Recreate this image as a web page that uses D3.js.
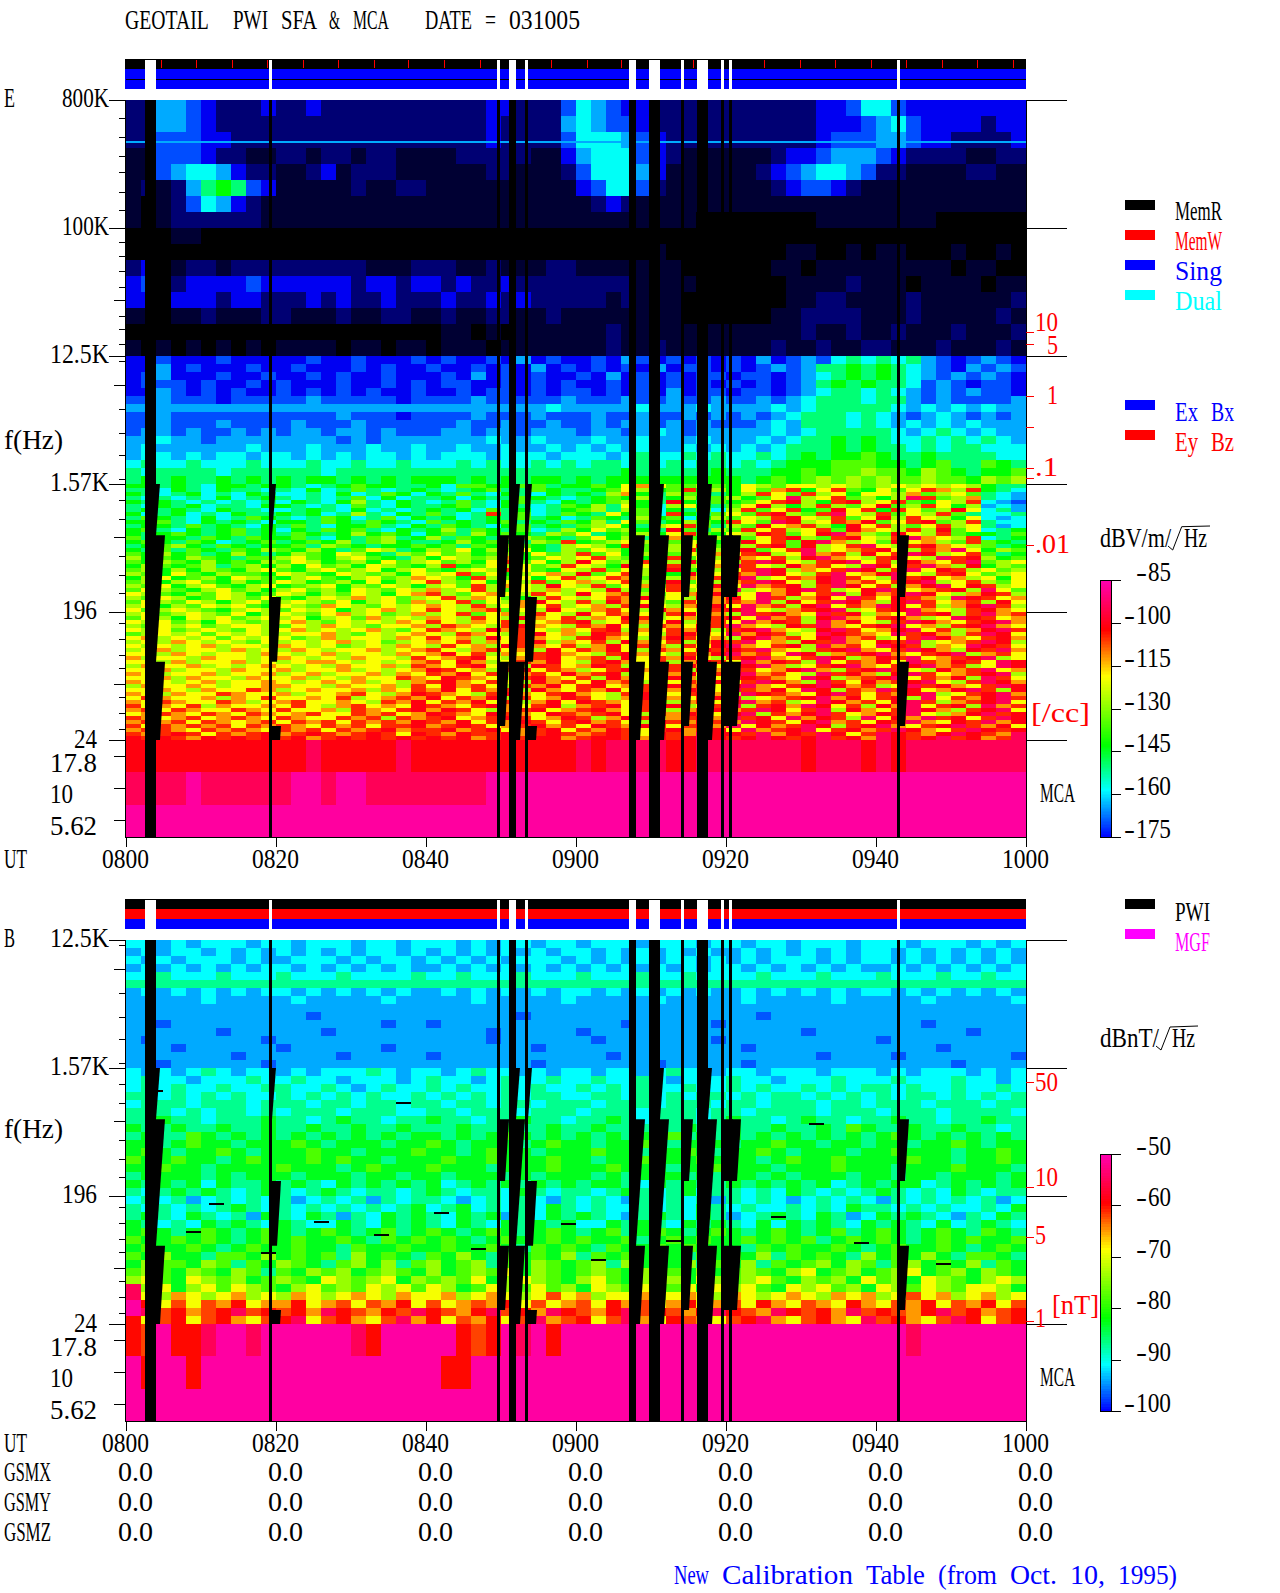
<!DOCTYPE html>
<html>
<head>
<meta charset="utf-8">
<script src="https://cdn.jsdelivr.net/npm/d3@7"></script>
<style>
  body { margin: 0; background: #fff; }
  text { font-family: "Liberation Serif", serif; font-size: 28px; white-space: pre; }
</style>
</head>
<body>
<div id="chart"></div>
<script>
// level letters used in the spectrogram rows below, dark to hot
const levelKeys = '.abcdefghijklmnop'.split('');
const eLevels = [-195, -191, -186, -176, -170, -164, -158, -150, -143, -135, -127, -119, -112, -105, -101, -94, -87];
const bLevels = [-115, -110, -107, -100.5, -97, -94, -91, -87, -83, -78, -74, -69, -65, -62, -60, -55, -51];

// E field, 800K -> 12.5K, 60 columns of 2 minutes
const eHighRows = [
  'bbeedcbbbc bbcbbbbbbb bbbbccbbbd fedccbbbbb bbbbbbccdf fdcccccccc',
  'bbeedcbbbb bbbbbbbbbb bbbbcbbbbe feddcbbbbb bbbbbbcccd efdccccbcc',
  'bbdddccbbb bbbbbbbbbb bbbbcbbbbd fffedcbbbb bbbbbbcddd eedccbbbbc',
  'aadddcbbaa bbabbabbaa aabbbbbaac efffdcbaaa aaabccdeee dcbbbbaabb',
  'aadeffecbb aabcabbbaa aaaabbaaab dfffecaaaa aabcdeffed bbaaaabbaa',
  'ababeghgdc aaaaabaabb aaaaaaaaaa cdffdbaaaa aaabcddcba aaaaaaaaaa',
  'a.abdfecba aaaaaaaaaa aaaaaaaaaa abcbaaaaaa aaaaaaaaaa aaaaaaaaaa',
  'a.abbbbbba aaaaaaaaaa aaaaaaaaaa aaaaaaaa.. ......aaaa aaaa......',
  '...aa..... .......... .......... .......... .......... ..........',
  '.......... .......... .......... .....a.... ....aa..a. aa...a..a.',
  'bc.abbabbb bbbbbbaaab bbaabaaabb aaaaaaa... ...aa.aaaa aaaaa.aa..',
  'cd.bccccdc cccccbccbc cbcbbcbbbb bbbbaaaa.. ....aaaaba aa.aaaa.aa',
  'cc.cccbccb bbcbcbbcbb bcbbcbcbbb bbabaaa... ....aabbaa aabaaaaaab',
  'aa.aabaaab baaabaabba abaabbaaba aaaaaaa... ...aabbbba aabaaaaaba',
  '.......... .......... .aa.a.aaaa aabaaaaaaa aaaaabaaba abaaabaaab',
  'a.a.a.a.a. aaaa.aa.aa .aaa.aaaaa aabaabaaaa aaabaabaab baaabaaaba'
];

// E field, 12.5K -> 1.57K
const eMidRows = [
  'ccdcccdccc ccdccdcccd cdccdcecdc cdcedcdcdc dcecdedfgf gfgedcdedc',
  'ccecdcccdc cdcccdcdcc dccdcdcecd cdcdcecddc dcdedegghg hgfedceded',
  'cdecccdccd ccdcdccdcc cdcecdcdcc dcecdcdcdd cddcdefghg hgfedededc',
  'cdddcdccdc dcccdccdcd cddccdcdcd ccdcdcdcdc dcdcdeghgh ggfdedcddc',
  'ccedcdcdcc dcdcdcdccd ccdcddcdcd dcdcdcecdd cddcdefggf gfedededdc',
  'ddedddcddd ddedddddcd dddeddddde dddeddedde ddedefgggf ggededddde',
  'eeeeeeeeee eeeeeeeeee eeeeeeeefe eeeefeeefe eeefefgggg gfefefefee',
  'ddeddddddd ddddedddcd dddedddedd deddeddede dedefgggfg fedefedede',
  'ddedddeddd dedddedddd ddeddedded dedeededed ddefegggfg fefefefeee',
  'deededdede deedeededd deedeedeee deedefedee eeefefgggg gfefgfefee',
  'eefeedeeee eeeededeee eeeefeefee efeefeeefe eefefgghgh gffgfgfgfe',
  'efeeeeeefe eefeeefeef eefeefeefe fefefeefef efefggghgh ggfgfggfff',
  'effefeffef fefefeffef efffefffef ffefgffgfg ffgfghghhi hgghggggff',
  'fgffgfffgf ffgffgffgf ffgfgffgfg fggfgfgfgg fgfghhhiii hhghiggihg',
  'gfggggfggg gggfgggggg gggggggggg ggghgggggh ggghhihiij iihjihghhi',
  'ghghgghghg hghhghghgh hhghghghhg hghhhhhhhh hghihijiji jiijiihjij'
];

// E field, 1.57K -> 24
const eLowRows = [
  'hhghgfhhgh hgfghihhgg hfiihhiigh hihklkiiji hkjikkjkji jkjkjkjhgg',
  'ggfhgfhggf gfhfgigfgh gfghiggihg ghikjhimhj hkilmhkmih kikmljmhgf',
  'hgfghfgfhg ffgfhfgihf hgigfhgfhg hgjlhgjiig hjmkimjkhk kjlijkigfe',
  'gfgfgfhfgh gfgfgifhfg ghfhggihgf ghihjghjhi jhikojkmij hjomijlgfe',
  'hghgfgfgfg fhgfhjgfhg fgigfhigfh ghijhgnhgi hikmnjhmnj kmihkjmfed',
  'gfhghfggfh hgfgfigfhg ghigfhgfgi hjgkhfjkhg iknjhjmjik nijmkhjefe',
  'ghghgfhggf fghgfhfgfg hghfighfgh ijgjifhgif jmikmhinkm hmkijnkfge',
  'hfghfgfhgg hghfgjgfhg igfgmgifgi hgkhifmhgi kimnjimokj mikjmigffg',
  'gihgfhfgih gfgihfgifh ghfghgighf gihgjhifhj ikjmnkjmik njmkjhkfef',
  'hhigfhghgf hhgihgihgf ighghighgi hjgkighjih mkionjkmln ikmnijmgff',
  'ghhgighgfh gigfhhigfh gihgfhighg ijkhgjkmig jinklmjhnk mjikmjkgef',
  'higfhghigh fhgihigfhg hjgihgifgj hkijhgnigj imkmjkminl kjmjnikfgh',
  'hghihghigh gihghjhihf higjhihgji kghijhkmih kjnmiknolj inkjmihhgi',
  'ighhgihgih higfhgijgh jgihgkjihg ikhjgjlihj mikmnjimnk jmolkjmfgh',
  'hihgihfghi ghihjgijhg ghjhihgjim hijkjgikjh jnkminoljk inkljimihg',
  'ghijhgihgh higjihghhi higihjihgj kjhmihjkmi kjmninjkmo kjmnlkjigh',
  'hgigihgihj ihjhgikjgh jikhjikhgj ikjhikjmhj mnikmojklm nkjmlokhji',
  'ihjhighjhg hjihkjhgji kijhijhkij mikhjnikjl kmnjkolmjn kmonjkmigh',
  'jhihjihgii jkihjkihgj hkjijlhikj kmjihjmikj nlkmjnolkj mnkjomnjhi',
  'ihjihjhihj ikjhijhkij kijhkmikhj nkijmkjnik jmonkjmnok mjnlkmoijk',
  'hjihijgijh jhkijhkjih jmhikjkijm kjhnkimjkl omkjnlmkjo nkmoljnhji',
  'ijhjhjihjk ihjkijkhjk ihjkjmkihk jmikjknihj kmonjlkmon jmoknmjkij',
  'jihkihjiih kjihkjijhk jkmikhjklj nikmjkhnjk mlonkjmokl nokjmnkijk',
  'hjkhijhkji hjkihjkijl kjhmjikhkm jkmlikjlkm nojkmlnomk jomnkljkhk',
  'ijhjkihjhi kjhijhkhjk mjikhkjmik ljkmjhnikj lmonkjnolm kmnojkmjik',
  'jikhjkihjk hijkhjikjh jkimjlkjnk jmikljmkjn kolmnjmonk mjlnoknmjk',
  'ikjihjkijh jkijhkjikj ljkmjikjlj kjnjikmjkl ojklnomjkn omklmnjoki',
  'kjihjikjhi kjhjikjhkl mjiklkjmkj nklmjiklmn jkolnkmojn lmonkjlnmj',
  'jikjhikjik ihjkjljkij kmjlkihjmk jkmlnjkjnl nkomjlnkom knmljonmkl',
  'ikjikjhjki jkjikhjkil jkmikjlnkj mjnlkjimkl mlojnkmonl jnomklmjnk',
  'jkhjikjkih kjilkjikjk lkjmjklkmj kljmnkjlmn kolmjnokml onkmjlnomj',
  'kijkjihjkj ikjkhjkljk mkjlmikjnk jlmkjnlkjm nokjlmnojk mnolkjmnlk',
  'jkijkjikhj kjikljkijl jkmikljmkj nkmlkjmnkl jomnlkomnj lkomnjmolm',
  'ikjhkjkijk jkhjkiljkj lkjmkjnlkm jlknmjkljm nkolmjnolk mnljkonmkl',
  'kjkijhkjij kljikjkjlk mkjlkmjklm njkmlknjlm kolnmjolnk jmonlkmnol',
  'jikjkijkkj ikjlkjikkl jmlkjmnlkj mlnkjmlknm olkjnmolkm nokljmnolk',
  'kjkijkjikj kljkjkljik mlkjnlmkjl kmnjlkmlnj mnolkjnomk lnokmjlnom',
  'ijkjkikjkj jkkljikjkl kjmlkjmnkl jnmlkjmnlk olnmjkonml komnljmonk',
  'kljkjkikjk kijljkkjlk mkljnkmlkj mnlkjlnmkl jnolmknolm jkmonlkmnl',
  'jkjlkjkjik jkjkljkijk lkmjlkmnjl kmjnlkmjln mokljnmolk nmojklmonj',
  'kjkjkljkkj lkjkijkjlk jmkljnmlkm jlnkmljmkn olkmnjolmk onmjlkonmk',
  'jkljkkjljk jlkjkkljkl mkjlmkljnk mlnkjmlknm nmolkjmnol kmonljnmol',
  'kkjlkjkkjl kjkljkkjlk lnkmjlkmnl kjmnlkjmln olmkonjlmn olkmnojlmk',
  'ljkkjlkkjk lkjkjlkkjm klmnkjlmnk lmjnkmlnkj mnolkmonjl nmoklmnojk',
  'kkjljkkljk jkllkjkjkl mknljkmlnk jmnlkmjlnm kolnmjokml nkomlnmkon',
  'jlkkljkjkl kjkjlkkljm lkmnkljnmk lnmjklmnlk mnoljkmnol kmnolmjkon',
  'kkljkkjlkk ljkkljkjkl nmkljmnkml jkmnlkmjnl omklnoljmn omkjnlmokl',
  'lkjkkljkkl jkljkkljlk mlnkmjlmkn lmnjkmlnkm nolmkjomnl jnomklmnoj',
  'kkljlkkjlk kljkjlkkml knmlkjmnlk mjnlkmnljk onmlkonjlm nokmlnjomk',
  'lkkjkljkkl kjklkljkjl mnlkmkjnlm knlmjnkmln kmonljomkn lmnokjmonl',
  'jlkklkjkkl lkkjlkkljm knlmkjmlnk mnklmjnlmk nolkmnonlm jkomnlkmon',
  'kklkjlkkml jklkkljlkm lnkmlmjnlk mlnkmjlnmk omlnkonjml omnklnomjn',
  'lkjlkkmlkk ljkklmkjln mlkjmnlkmn lkjmnlkmnl jonmlknomk mlnojkmnol',
  'kmlkkljlkm kklkmjklml nkmlnjmkln mkjlnmlkmn ojklmnolnk mnjokmlnom',
  'lkmlkkmljk lmkklkjmln kmlnkmjlnk nmlkmnjlmk nolmjkonlm knomjlmnok',
  'mklkmjlkkl kmkjlmklkn mlkmnlkmnj lmnkmlnjkm ojmnlonkmj nlokmnjolm',
  'lmkmlkkmlk mkkljmlkmn lnmkjlmnkl mnlkmnjlmn lmonkmojnl kmonljmnok',
  'klmlkmlkml klmkkmlmkl nmlknmlknm lmnkjmlnmk nojmlnomkl nmokjlnomn',
  'mlklmklmlk mlkkmlmjml mnklmnmkln mjlnmklmnl omnkolnmjo knlomnkmon',
  'lmlmkmlklm kmlmkmlmln mlnkmlnmkm nlmkjnmlnm lonmknolmk nmolknmoln',
  'mkmlmlmkml mlkmlmkmmn lmnmklmnlm knmlnmkmnl oknlmonjmn olkmnomlnk',
  'lmmlkmlmlk mlmkmlmnlm mnlmnklmnk mlnmkmnlmn kolmnokmnl monlkmonmn',
  'mlmnmkmlmn lmnmlmnmkn mlnmmnlmnm lmnmknmlon nmolnmonkm onmlnonmlo',
  'nmnmlnmnmn mnlmnmnmnm nmnlmnmnnl mnnmlnmnon mnonmnomnl onmnomnlmo'
];

const eMcaRows = [
  'nnnnnnnnnn nnonnnnnon nnnnnnnnnn onoooonnoo ooooonooon onoooooooo',
  'oooopooooo oppoppoooo oooopppppp pppppppppp pppppppppp pppppppppp',
  'pppppppppp pppppppppp pppppppppp pppppppppp pppppppppp pppppppppp'
];

// B field, 12.5K -> 1.57K
const bMidRows = [
  'ffefefffef fefffeffef ffefeffeff efffefffef feffefffef ffefffefef',
  'efeffefefe fefefeffef efefefefef fefefefefe efefefefef fefefefefe',
  'fefefffefe efffefeffe fefefefffe fefefeffef efefffefef fefefefefe',
  'efefefefef fefefefefe efefefefef efefefefef fefefefefe efefefefef',
  'ffgfffgfff gfffgffffg ffgfffgfff gfffgffgff ffgfffgfff gfffgffgff',
  'gggggggggg gggggggggg gggggggggg gggggggggg gggggggggg gggggggggg',
  'efefefefef fefefefefe efefefefef fefefefefe efefefefef fefefefefe',
  'eeeeefeeee efeeeeefee eeefeeeeef eeeeefeeee efeeeeefee eeefeeeeef',
  'eeeeeeeeee eeeeeeeeee eeeeeeeeee eeeeeeeeee eeeeeeeeee eeeeeeeeee',
  'eeeeeeeeee eedeeeeeee eeeeeedeee eeeeeeeeee eedeeeeeee eeeeeeeeee',
  'eedeeeeeee eeeeeeedee deeeeeeeee eeedeeeeed eeeeeeeeee eeedeeeeee',
  'eeeeeedeee eeedeeeeee eeeedeeeee deeeeeeeee eeeeedeeee eeeeeedeee',
  'edeeeeeeed eeeeeeeeee eeeedeeeee edeeeeeeed eeeeeeeeee deeeeeeeee',
  'eeedeeeeee deeeeeedee eeeeeeedee eeeeeeeeee edeeeeeeee eeeedeeeee',
  'eeeeeeedee eeeedeeeee deeeeeeeee eedeeeeeee eeeeeedeee edeeeeeeed',
  'eedeeeeeed eeeeeeeeee eeeeeeedee eeeeedeeee edeeeeeeee eeeeedeeee'
];

// B field, 1.57K -> 24
const bLowRows = [
  'fefefgfeff efefffgfef fefgffefef feffefgffe ffefffefff efefffefef',
  'fgffefffgf fgffefffef gffefgffgf fgffgfefff gffefffgff fgfffgffef',
  'fgfgffgffg gffgfefgff gfgffgfgff gfgfgffgff gfgffgfgfg gfgffgffgf',
  'ggfgfgfgff gfgfgfgffg fgfgfgfggf fggfgfgfgg fgfggfgfgf gfggfgfgfg',
  'fgggfgggfg ggfggfggfg gfggfggfgg gfgggfgggf ggfgggfggf gggfgggfgg',
  'gggfgfggfg fgggfgggff ggfgggfggg fgggfgggfg gfggggfggg fgggfggggf',
  'gghggfgggh ggfghggfgg hggfgghggf gghgfgggfg hggfghggfg ghggfgghgg',
  'hgghgghggh gghgghgghg gghgghgghg ghggghghgg hgghgghgih gghgghggfg',
  'ghggihghgh ghghghghgh hghghihghg hghghhighg hghghghghg hihghghghg',
  'hhghihhghh hihghhhghh ihghhhghih hghhihghhh ghhihhghhg hhghhihghh',
  'hihghhihgh hhihhghhhi hhghihhghh hihhghhihg hhihghhhgh hihhhghhih',
  'ihhihhghih hhihihhghh hihhihhhih hghhihhhih hhghihhihh hhihhghhih',
  'hhihhghhhh ihhhghihhh ihhhghhhih hhihhhghhi hhhghhhihh hghhhihhhg',
  'ghhhhghghh hghhhghhgh hghhhghghh hghghhhghg hhghghhhgh hghhghhhgh',
  'hghghfhggh ghgfhghghg hfghghghgh ghhgfhghgg hghghghfgh ghhfghghgh',
  'gfghghgfgh gfghgfggfg hgfggfhgfg gfghgfghfg gfgfhgfgfg hgfgfhgfgg',
  'fgfgefgfgf gefgfgegfg gfefgfgfeg fgfegfgfge gfgfefgfgf egfgfgfgef',
  'gfgfgfghgf gfgfgfgfgh fghfgfgfhg fgffgfgfhg fgffgfgfhg gfgfgffgfh',
  'ghgfhgfgeh gfhgegfhgh gfhghegfhg hgfeghgfhg efghgfhgef hghgfegfhg',
  'hgfgfhghgf hgffhgfhgh gfhgfhghgh ffhghgfhgh gfhfhghgfh ghgfhfghgf',
  'hihghihghi hghihghigh ihghihghih ghighihghi hghihghigh ihghihgihg',
  'ihhihihghi hihhihgihi hihghihhih ihhighihih hihihighih ihghihihhi',
  'hihhihghih hihhgihhih hihhihgihi hgihhihihh hgihihhihg hihhihghih',
  'ihjhhgiihj hihigjhihg ihjhgihihj gihihjhgih ihjgihihgj hihjhgiihg',
  'hjiihjigih jihgijhjgi jhijgihjih ijgjhihjgi hjgihijhji gijhihjgih',
  'ijihjihjig ihjijhijih jhijikhjih ijihjkihjh ijihjkhijh ijkhijhjih',
  'jkihkjijhi jihkjijkhj ijikhjkjih jkihjijhkj ijkihjijhk ijhkjihjkj',
  'ojkhjkikji hjkijikjki kjhikjikij hkjikjikhk jkihkjkijh kjikjikkjh',
  'okjlkjkljk jlkjklkjlk kljklkjkmk ljkkljklkj lkjklkjlkl jkmkljkljk',
  'pnkmkmlnkl lnklmkmlnk mklmlnkmkl mknlmklnkl mknlkmlknl kmlnkmlnkm',
  'pomnlmnomn mnlonmlnmo nmlnomnlon mlnomnmlno nmlonmnlom nmlnomnlmn',
  'nkmnkmnlkm nokmnlkmol nkmlnkmolm nkmolknmlk mnolkmnlko mnlkmonkmn'
];

const bMcaRows = [
  'nmpnnoppop ppppponppp ppnmnpopnp pppppppppp pppppppppp ppoppppppp',
  'pnppnppppp pppppppppp pnnppppppp pppppppppp pppppppppp pppppppppp',
  'pppppppppp pppppppppp pppppppppp pppppppppp pppppppppp pppppppppp'
];

// steady interference line in the E panel
const eLineFreqs = [411000];
const eLineLevels = ['e'];

// thin dark streaks in the B panel: frequency and time in minutes
const bStreakFreqs = [175, 150, 140, 130, 125, 110, 105, 96, 92, 84, 78, 70, 66, 1100, 900, 640];
const bStreakTimes = [11, 41, 86, 25, 58, 8, 33, 72, 97, 46, 18, 62, 108, 2.9, 36, 91];

// data gaps in minutes after 0800, and which sweep tails each one leaves
const gapStarts = [2.53, 19.07, 49.47, 51.07, 53.2, 67.07, 69.73, 74, 76.13, 79.33, 80.4, 102.8];
const gapEnds = [4, 19.47, 49.87, 52, 53.6, 68, 71.2, 74.4, 77.6, 79.73, 80.8, 103.2];
const gapTails = ['A B C', 'A B2 C2', 'B1 C1', 'A B C', 'A B2 C2', 'B C', 'A B C', 'B1 C1', 'A B C', 'B1 C1', 'B1 C1', 'B1 C1'];

// tail name -> [top freq, bottom freq, lag at top, lag at bottom] (Hz, minutes)
const tailShapes = {
  A: [1562.5, 680, 0.53, 0],
  B: [680, 87, 1.2, 0],
  C: [87, 24.41, 1.2, 0.53],
  B1: [680, 249, 1.2, 0.67],
  B2: [249, 87, 1.2, 0.67],
  C1: [87, 30.7, 1.2, 0.67],
  C2: [30.7, 24.41, 1.2, 1.07]
};

// memory read marks on the top status bar, minutes
const memReadMarks = [4.7, 9.37, 14.17, 18.9, 23.63, 28.3, 33.1, 37.73, 42.53, 47.2, 56.7, 61.5, 66.13, 75.6, 85.1, 89.9, 94.57, 99.37, 104.07, 108.87, 113.5, 118.3];

const timeTicks = [0, 20, 40, 60, 80, 100, 120];
const timeLabels = ['0800', '0820', '0840', '0900', '0920', '0940', '1000'];
const gsmRows = ['GSMX', 'GSMY', 'GSMZ'];
const gsmValue = '0.0';

const eMajorFreqs = [800000, 100000, 12500, 1562.5, 195.3, 24.41];
const eMajorLabels = ['800K', '100K', '12.5K', '1.57K', '196', '24'];
const bMajorFreqs = [12500, 1562.5, 195.3, 24.41];
const bMajorLabels = ['12.5K', '1.57K', '196', '24'];
const mediumFreqs = [31000, 7800, 660, 60.6];
const minorFreqs = [
  600000, 440000, 320000, 250000, 180000, 135000,
  80000, 63000, 50000, 38300, 24000, 19400, 15200,
  11500, 5280, 3580, 2500, 1700,
  1205, 885, 485, 356, 266,
  163, 126, 97, 78.6, 49, 37.8, 29.2
];
const mcaBands = ['17.8', '10', '5.62'];

const eBarTicks = [-85, -100, -115, -130, -145, -160, -175];
const bBarTicks = [-50, -60, -70, -80, -90, -100];

const eDensity = [10, 5, 1, 0.5, 0.1, 0.05, 0.01];
const bTesla = [50, 10, 5, 1];

const width = 1280;
const height = 1593;
const cell = 12; // the plot font is a fixed 12px wide cell

const svg = d3.select('#chart').append('svg').attr('width', width).attr('height', height);

const x = d3.scaleLinear().domain([0, 120]).range([126, 1026]);
const yE = d3.scaleLog().domain([800000, 24.41]).range([100, 740]);
const yB = d3.scaleLog().domain([12500, 24.41]).range([940, 1324]);
const mcaE = d3.scaleBand().domain(mcaBands).range([740, 837]);
const mcaB = d3.scaleBand().domain(mcaBands).range([1324, 1421]);

const eStops = [-195, -175, -158.5, -142.8, -118.6, -102.5, -85];
const bStops = [-115, -100, -91, -82, -68.5, -59.75, -50];
const stopColors = ['#000000', '#0000ff', '#00ffff', '#00ff00', '#ffff00', '#ff0000', '#ff00b4'];
const colorE = d3.scaleLinear().domain(eStops).range(stopColors);
const colorB = d3.scaleLinear().domain(bStops).range(stopColors);

const levelE = d3.scaleOrdinal().domain(levelKeys).range(eLevels);
const levelB = d3.scaleOrdinal().domain(levelKeys).range(bLevels);

// text in fixed 12px cells, word by word, squeezed like the old plotter font
function label(str, px, py, fill = '#000', anchor = 'start') {
  let x0 = px;
  if (anchor === 'end') x0 = px - str.length * cell;
  if (anchor === 'middle') x0 = px - (str.length * cell) / 2;
  const t = svg.append('text').attr('y', py).attr('fill', fill);
  const parts = str.match(/-| +|[^ -]+/g);
  let pos = 0;
  parts.forEach((part) => {
    const span = t.append('tspan').text(part);
    if (part.trim() !== '') {
      span.attr('x', x0 + pos * cell)
        .attr('textLength', part.length * cell - 1)
        .attr('lengthAdjust', 'spacingAndGlyphs');
    }
    pos += part.length;
  });
  return t;
}

function drawRows(rows, fTop, fBot, y, level, color) {
  const ratio = Math.pow(fBot / fTop, 1 / rows.length);
  rows.forEach((row, r) => {
    const y0 = Math.round(y(fTop * Math.pow(ratio, r)));
    const y1 = Math.round(y(fTop * Math.pow(ratio, r + 1)));
    Array.from(row.replace(/ /g, '')).forEach((code, c) => {
      svg.append('rect')
        .attr('x', x(c * 2)).attr('y', y0)
        .attr('width', x(2) - x(0)).attr('height', y1 - y0)
        .attr('fill', color(level(code)))
        .attr('shape-rendering', 'crispEdges');
    });
  });
}

function drawMca(rows, band, level, color) {
  rows.forEach((row, r) => {
    Array.from(row.replace(/ /g, '')).forEach((code, c) => {
      svg.append('rect')
        .attr('x', x(c * 2)).attr('y', Math.round(band(mcaBands[r])))
        .attr('width', x(2) - x(0)).attr('height', Math.ceil(band.bandwidth()))
        .attr('fill', color(level(code)))
        .attr('shape-rendering', 'crispEdges');
    });
  });
}

function drawGaps(y, yTop, yBottom) {
  gapStarts.forEach((start, i) => {
    svg.append('rect')
      .attr('x', Math.round(x(start))).attr('y', yTop)
      .attr('width', Math.round(x(gapEnds[i])) - Math.round(x(start))).attr('height', yBottom - yTop)
      .attr('fill', '#000')
      .attr('shape-rendering', 'crispEdges');
    gapTails[i].split(' ').forEach((name) => {
      const s = tailShapes[name];
      const pts = [
        [x(start), y(s[0])],
        [x(gapEnds[i] + s[2]), y(s[0])],
        [x(gapEnds[i] + s[3]), y(s[1])],
        [x(start), y(s[1])]
      ];
      svg.append('path').attr('d', d3.line()(pts) + 'Z').attr('fill', '#000');
    });
  });
}

function drawBars(yTop, colors) {
  const h = 30 / colors.length;
  colors.forEach((color, i) => {
    svg.append('rect')
      .attr('x', x(0) - 1).attr('y', yTop + i * h)
      .attr('width', x(120) - x(0) + 1).attr('height', h)
      .attr('fill', color).attr('shape-rendering', 'crispEdges');
  });
}

function drawBarGaps(yTop) {
  gapStarts.forEach((start, i) => {
    svg.append('rect')
      .attr('x', Math.round(x(start))).attr('y', yTop + 1)
      .attr('width', Math.round(x(gapEnds[i])) - Math.round(x(start))).attr('height', 29)
      .attr('fill', '#fff').attr('shape-rendering', 'crispEdges');
  });
}

function axisGroup(axis) {
  const g = svg.append('g').call(axis).attr('font-size', null).attr('font-family', null);
  g.selectAll('.domain').remove();
  g.selectAll('text').remove();
  g.selectAll('line').attr('stroke', '#000').attr('shape-rendering', 'crispEdges');
  return g;
}

function drawLeftAxes(y, band, majors, plotLeft) {
  axisGroup(d3.axisLeft(y).tickValues(majors).tickSize(16)).attr('transform', `translate(${plotLeft},0)`);
  axisGroup(d3.axisLeft(y).tickValues(mediumFreqs.filter((f) => f >= y.domain()[1] && f <= y.domain()[0])).tickSize(11)).attr('transform', `translate(${plotLeft},0)`);
  axisGroup(d3.axisLeft(y).tickValues(minorFreqs.filter((f) => f >= y.domain()[1] && f <= y.domain()[0])).tickSize(6)).attr('transform', `translate(${plotLeft},0)`);
  axisGroup(d3.axisLeft(band).tickSize(11)).attr('transform', `translate(${plotLeft},0)`);
  axisGroup(d3.axisRight(y).tickValues(majors).tickSize(41)).attr('transform', 'translate(1026,0)');
}

function drawFrame(yTop, yBottom) {
  svg.append('path')
    .attr('d', `M${x(0) - 1},${yTop}V${yBottom}H${x(120)}M${x(120)},${yTop}V${yBottom + 10}`)
    .attr('fill', 'none').attr('stroke', '#000').attr('shape-rendering', 'crispEdges');
  const g = axisGroup(d3.axisBottom(x).tickValues(timeTicks).tickSize(10));
  g.attr('transform', `translate(0,${yBottom})`);
  timeLabels.forEach((t, i) => label(t, x(timeTicks[i]), yBottom + 31, '#000', 'middle'));
  label('UT', 4, yBottom + 31);
}

function drawColorbar(y, color, ticks) {
  const [dbTop, dbBottom] = y.domain();
  d3.range(dbBottom, dbTop, 0.5).forEach((db) => {
    svg.append('rect')
      .attr('x', 1100).attr('y', y(db + 0.5))
      .attr('width', 11).attr('height', y(db) - y(db + 0.5) + 1)
      .attr('fill', color(db)).attr('shape-rendering', 'crispEdges');
  });
  svg.append('rect')
    .attr('x', 1100).attr('y', y(dbTop)).attr('width', 11).attr('height', y(dbBottom) - y(dbTop))
    .attr('fill', 'none').attr('stroke', '#000').attr('shape-rendering', 'crispEdges');
  axisGroup(d3.axisRight(y).tickValues(ticks).tickSize(10)).attr('transform', 'translate(1111,0)');
  ticks.forEach((t) => label(String(t), 1172, y(t) + 1, '#000', 'end'));
}

// ---- E panel
label('GEOTAIL  PWI SFA & MCA   DATE = 031005', 125, 29);

drawBars(59, ['#000', '#00f', '#00f']);
svg.append('path').attr('d', `M${x(0)},79.5H${x(120)}`).attr('stroke', '#000').attr('shape-rendering', 'crispEdges');
svg.append('g').selectAll('line').data(memReadMarks).join('line')
  .attr('x1', (d) => x(d)).attr('x2', (d) => x(d)).attr('y1', 60).attr('y2', 68)
  .attr('stroke', '#f00').attr('shape-rendering', 'crispEdges');
drawBarGaps(59);

drawRows(eHighRows, 800000, 12500, yE, levelE, colorE);
drawRows(eMidRows, 12500, 1562.5, yE, levelE, colorE);
drawRows(eLowRows, 1562.5, 24.41, yE, levelE, colorE);
drawMca(eMcaRows, mcaE, levelE, colorE);
eLineFreqs.forEach((f, i) => {
  svg.append('rect').attr('x', x(0)).attr('y', Math.round(yE(f))).attr('width', x(120) - x(0)).attr('height', 2)
    .attr('fill', colorE(levelE(eLineLevels[i]))).attr('shape-rendering', 'crispEdges');
});
drawGaps(yE, 100, 837);
drawLeftAxes(yE, mcaE, eMajorFreqs, 125);
drawFrame(100, 837);

label('E', 4, 107);
eMajorLabels.forEach((t, i) => {
  const right = i < 4 ? 110 : 98;
  label(t, right, yE(eMajorFreqs[i]) + (i === 5 ? 8 : 7), '#000', 'end');
});
label('f(Hz)', 4, 449);
label('17.8', 98, 772, '#000', 'end');
label('10', 50, 803);
label('5.62', 98, 835, '#000', 'end');

// density scale on the right of the E panel
const redE = d3.scaleLog().domain(eDensity).range([332, 344, 396, 427, 468, 478, 545]);
axisGroup(d3.axisRight(redE).tickValues(eDensity).tickSize(8)).attr('transform', 'translate(1026,0)').selectAll('line').attr('stroke', '#f00');
label('10', 1035, 331, '#f00');
label('5', 1047, 354, '#f00');
label('1', 1047, 404, '#f00');
label('.1', 1035, 476, '#f00');
label('.01', 1035, 553, '#f00');
label('[/cc]', 1031, 722, '#f00');
label('MCA', 1058, 802, '#000', 'middle');

// legends
const legendTop = ['MemR', 'MemW', 'Sing', 'Dual'];
const legendTopColors = ['#000', '#f00', '#00f', '#0ff'];
legendTop.forEach((t, i) => {
  svg.append('rect').attr('x', 1125).attr('y', 200 + i * 30).attr('width', 30).attr('height', 10).attr('fill', legendTopColors[i]);
  label(t, 1175, 220 + i * 30, legendTopColors[i]);
});
const legendMode = ['Ex Bx', 'Ey Bz'];
const legendModeColors = ['#00f', '#f00'];
legendMode.forEach((t, i) => {
  svg.append('rect').attr('x', 1125).attr('y', 400 + i * 30).attr('width', 30).attr('height', 10).attr('fill', legendModeColors[i]);
  label(t, 1175, 421 + i * 30, legendModeColors[i]);
});

label('dBV/m/', 1100, 547);
label('Hz', 1184, 547);
svg.append('path').attr('d', 'M1168,546L1172.7,550L1181.7,526.7L1210,526').attr('fill', 'none').attr('stroke', '#000');

const barE = d3.scaleLinear().domain([-85, -175]).range([580, 837]);
drawColorbar(barE, colorE, eBarTicks);

// ---- B panel
drawBars(899, ['#000', '#f00', '#00f']);
drawBarGaps(899);

drawRows(bMidRows, 12500, 1562.5, yB, levelB, colorB);
drawRows(bLowRows, 1562.5, 24.41, yB, levelB, colorB);
drawMca(bMcaRows, mcaB, levelB, colorB);
bStreakFreqs.forEach((f, i) => {
  svg.append('rect').attr('x', x(bStreakTimes[i])).attr('y', Math.round(yB(f))).attr('width', x(2) - x(0)).attr('height', 2)
    .attr('fill', '#000').attr('shape-rendering', 'crispEdges');
});
drawGaps(yB, 940, 1421);
drawLeftAxes(yB, mcaB, bMajorFreqs, 125);
drawFrame(940, 1421);

label('B', 4, 947);
bMajorLabels.forEach((t, i) => {
  const right = i < 2 ? 110 : 98;
  label(t, right, yB(bMajorFreqs[i]) + (i === 3 ? 8 : 7), '#000', 'end');
});
label('f(Hz)', 4, 1138);
label('17.8', 98, 1356, '#000', 'end');
label('10', 50, 1387);
label('5.62', 98, 1419, '#000', 'end');

const redB = d3.scaleLog().domain(bTesla).range([1082, 1187, 1237, 1321]);
axisGroup(d3.axisRight(redB).tickValues(bTesla).tickSize(8)).attr('transform', 'translate(1026,0)').selectAll('line').attr('stroke', '#f00');
label('50', 1035, 1091, '#f00');
label('10', 1035, 1186, '#f00');
label('5', 1035, 1244, '#f00');
label('1', 1035, 1327, '#f00');
label('[nT]', 1052, 1314, '#f00');
label('MCA', 1058, 1386, '#000', 'middle');

const legendB = ['PWI', 'MGF'];
const legendBColors = ['#000', '#f0f'];
legendB.forEach((t, i) => {
  svg.append('rect').attr('x', 1125).attr('y', 899 + i * 30).attr('width', 30).attr('height', 10).attr('fill', legendBColors[i]);
  label(t, 1175, 921 + i * 30, legendBColors[i]);
});

label('dBnT/', 1100, 1047);
label('Hz', 1172, 1047);
svg.append('path').attr('d', 'M1156,1046L1161,1050L1170,1027L1198,1026').attr('fill', 'none').attr('stroke', '#000');

const barB = d3.scaleLinear().domain([-50, -100]).range([1154, 1411]);
drawColorbar(barB, colorB, bBarTicks);

// ---- orbit table under the B panel
gsmRows.forEach((name, r) => {
  const py = 1481 + r * 30;
  label(name, 4, py);
  timeTicks.forEach((t) => label(gsmValue, x(t) + 10, py, '#000', 'middle'));
});

label('New Calibration Table (from Oct. 10, 1995)', 674, 1584, '#00f');
</script>
</body>
</html>
